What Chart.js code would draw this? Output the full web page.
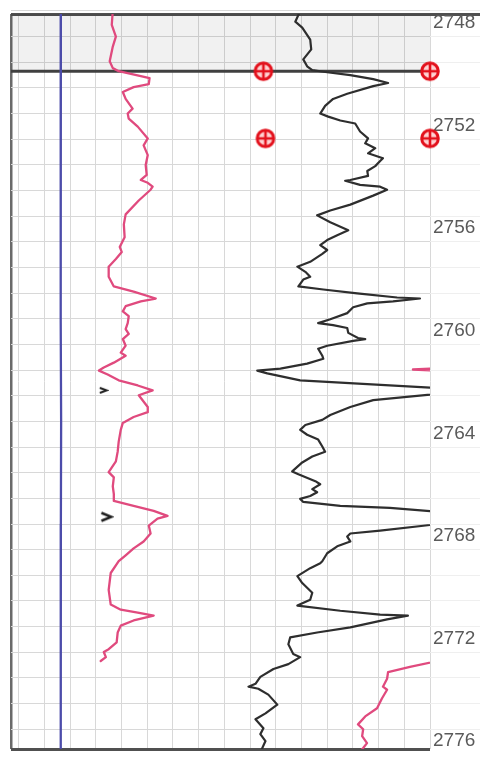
<!DOCTYPE html>
<html>
<head>
<meta charset="utf-8">
<title>Well log 2748-2776</title>
<script src="https://cdn.jsdelivr.net/npm/chart.js@4/dist/chart.umd.min.js"></script>
<style>
  html, body { margin: 0; padding: 0; background: #ffffff; }
  #wrap { position: relative; width: 480px; height: 760px; }
</style>
</head>
<body>
<div id="wrap"><canvas id="log"></canvas></div>
<script>
// Depth window (m) and depth labels on the right-hand track
const depthTop = 2748.12;
const depthBottom = 2776.77;
const depthLabels = [2748, 2752, 2756, 2760, 2764, 2768, 2772, 2776];
// Track scale (one division = 10 units)
const trackMin = -3;
const trackMax = 160;
const trackDivisions = [0, 10, 20, 30, 40, 50, 60, 70, 80, 90, 100, 110, 120, 130, 140, 150, 160];

// Formation top shading and boundary
const zoneTop = 2748.12;
const zoneBase = 2750.35;

// Blue curve
const spDepth = [2748.0, 2752.0, 2756.0, 2760.0, 2764.0, 2768.0, 2772.0, 2776.9];
const spValue = [16.4, 16.3, 16.4, 16.3, 16.5, 16.4, 16.3, 16.4];

// Pink curve
const grDepth = [
  2748.00, 2748.54, 2749.00, 2749.39, 2749.96, 2750.23, 2750.35, 2750.54, 2750.62, 2750.85,
  2750.97, 2751.16, 2751.43, 2751.81, 2752.00, 2752.20, 2752.51, 2752.97, 2753.24, 2753.62,
  2754.01, 2754.39, 2754.59, 2754.70, 2754.85, 2754.97, 2755.39, 2755.93, 2756.32, 2756.82,
  2757.20, 2757.40, 2757.67, 2757.97, 2758.36, 2758.74, 2758.94, 2759.21, 2759.32, 2759.51,
  2759.71, 2759.90, 2760.17, 2760.40, 2760.59, 2760.79, 2761.05, 2761.32, 2761.44, 2761.71,
  2761.90, 2762.02, 2762.17, 2762.40, 2762.60, 2762.79, 2762.98, 2763.44, 2763.64, 2763.83,
  2764.06, 2764.33, 2764.79, 2765.18, 2765.56, 2765.98, 2766.18, 2766.53, 2766.83, 2767.10,
  2767.29, 2767.49, 2767.68, 2767.79, 2768.06, 2768.37, 2768.68, 2768.95, 2769.22, 2769.45,
  2769.91, 2770.57, 2771.14, 2771.34, 2771.45, 2771.57, 2771.76, 2771.96, 2772.23, 2772.61,
  2772.88, 2772.99, 2773.19, 2773.34
];
const grValue = [
  36.6, 36.2, 37.8, 36.6, 35.4, 36.6, 38.9, 47.5, 50.9, 50.6,
  44.7, 40.5, 41.6, 44.3, 42.4, 42.8, 46.3, 50.2, 48.6, 50.2,
  49.4, 49.8, 47.5, 50.2, 52.1, 51.3, 46.7, 41.6, 40.9, 41.2,
  39.3, 40.1, 37.8, 35.0, 35.0, 37.0, 44.7, 53.3, 47.5, 41.6,
  40.5, 42.8, 42.4, 41.6, 42.8, 40.5, 41.6, 39.7, 41.6, 37.0,
  33.1, 31.2, 34.6, 38.9, 46.3, 52.1, 46.7, 50.2, 50.2, 44.7,
  40.5, 39.7, 38.9, 38.5, 37.8, 35.0, 37.0, 36.6, 37.0, 37.0,
  44.7, 52.5, 57.9, 54.0, 50.6, 51.3, 48.6, 44.7, 41.6, 38.9,
  35.8, 35.0, 35.8, 39.7, 46.3, 52.5, 44.7, 39.7, 38.5, 38.1,
  35.0, 33.1, 33.9, 31.9
];

// Pink curve, wrapped back onto the track
const grWrapDepth = [2773.30, 2773.57, 2773.77, 2774.03, 2774.34, 2774.46, 2774.80, 2775.18, 2775.50, 2775.81, 2776.00, 2776.27, 2776.54, 2776.73, 2776.90];
const grWrapValue = [165.0, 152.2, 143.7, 143.3, 141.7, 143.3, 141.3, 139.4, 134.8, 132.0, 134.0, 133.6, 135.5, 134.0, 132.5];
const grFlickDepth = [2761.88, 2761.98, 2762.08];
const grFlickValue = [176.0, 153.4, 176.0];

// Dark curve
const dtDepth = [
  2748.00, 2748.42, 2748.65, 2749.12, 2749.50, 2749.89, 2750.16, 2750.31, 2750.39, 2750.50,
  2750.66, 2750.81, 2750.93, 2751.23, 2751.43, 2751.70, 2752.00, 2752.12, 2752.27, 2752.39,
  2752.70, 2752.97, 2753.16, 2753.35, 2753.55, 2753.74, 2753.85, 2754.05, 2754.24, 2754.43,
  2754.59, 2754.62, 2754.78, 2754.85, 2754.97, 2755.20, 2755.55, 2755.78, 2755.97, 2756.24,
  2756.55, 2756.74, 2756.93, 2757.13, 2757.32, 2757.47, 2757.78, 2757.97, 2758.17, 2758.36,
  2758.47, 2758.74, 2758.86, 2759.01, 2759.17, 2759.21, 2759.32, 2759.40, 2759.55, 2759.78,
  2760.02, 2760.17, 2760.25, 2760.36, 2760.55, 2760.75, 2760.79, 2760.86, 2761.05, 2761.17,
  2761.44, 2761.56, 2761.75, 2761.94, 2762.02, 2762.13, 2762.40, 2762.79, 2763.17, 2763.44,
  2763.75, 2763.94, 2764.14, 2764.33, 2764.52, 2764.71, 2764.98, 2765.18, 2765.37, 2765.60,
  2765.95, 2766.06, 2766.33, 2766.45, 2766.64, 2766.76, 2766.91, 2767.02, 2767.14, 2767.29,
  2767.37, 2767.72, 2768.26, 2768.37, 2768.49, 2768.68, 2768.87, 2769.14, 2769.45, 2769.53,
  2769.72, 2770.03, 2770.30, 2770.68, 2770.95, 2771.18, 2771.38, 2771.53, 2771.57, 2771.72,
  2772.03, 2772.23, 2772.42, 2772.69, 2773.07, 2773.19, 2773.46, 2773.65, 2773.96, 2774.23,
  2774.34, 2774.42, 2774.65, 2775.04, 2775.38, 2775.61, 2775.96, 2776.19, 2776.46, 2776.90
];
const dtValue = [
  109.5, 107.6, 110.3, 113.4, 113.8, 110.7, 112.2, 114.2, 120.0, 129.0,
  137.9, 143.7, 137.9, 127.8, 122.3, 119.2, 117.3, 120.4, 125.1, 130.9,
  132.8, 135.9, 134.8, 138.7, 135.9, 141.7, 140.6, 138.7, 135.6, 135.9,
  129.0, 127.0, 132.8, 140.6, 143.3, 137.9, 129.0, 121.2, 116.1, 121.2,
  128.2, 123.9, 120.0, 117.3, 120.0, 118.1, 113.4, 108.4, 111.5, 113.4,
  110.7, 108.8, 118.5, 131.7, 147.2, 156.1, 145.6, 135.6, 130.1, 127.8,
  121.2, 116.5, 122.3, 127.8, 128.2, 132.0, 134.8, 130.1, 120.0, 116.5,
  118.1, 118.5, 112.2, 101.8, 92.8, 96.7, 109.5, 178.0, 137.9, 129.0,
  121.2, 118.1, 111.5, 109.5, 112.2, 116.5, 118.1, 119.2, 114.2, 110.3,
  106.4, 108.8, 115.4, 117.3, 114.2, 116.1, 113.4, 109.5, 110.7, 125.1,
  144.4, 188.0, 140.6, 129.0, 127.8, 129.0, 123.9, 120.0, 118.1, 117.3,
  113.4, 108.4, 110.3, 114.2, 113.4, 108.4, 125.1, 140.6, 151.4, 143.3,
  129.0, 116.1, 105.6, 104.9, 106.8, 109.5, 104.9, 99.1, 94.0, 92.1,
  89.4, 93.2, 97.1, 100.6, 96.0, 92.1, 95.2, 94.0, 96.0, 94.0
];

// Picks (circled crosses) and flags (chevrons)
const pickDepth = [2750.35, 2750.35, 2752.97, 2752.97];
const pickValue = [95.2, 160.0, 96.0, 160.0];
const flagDepth = [2762.79, 2767.72];
const flagValue = [32.9, 34.1];

const pts = (depth, value) => depth.map((d, i) => ({ x: value[i], y: d }));

// Marker glyphs
function pickGlyph() {
  const c = document.createElement('canvas');
  c.width = 22; c.height = 22;
  const g = c.getContext('2d');
  g.fillStyle = '#ffd3d3';
  g.beginPath(); g.arc(11, 11, 8.5, 0, Math.PI * 2); g.fill();
  g.strokeStyle = '#e3111c';
  g.lineWidth = 3;
  g.beginPath(); g.arc(11, 11, 8.3, 0, Math.PI * 2); g.stroke();
  g.lineWidth = 2.6;
  g.beginPath();
  g.moveTo(11, 3); g.lineTo(11, 19);
  g.moveTo(3, 11); g.lineTo(19, 11);
  g.stroke();
  return c;
}
function chevron(w, h, lw) {
  const c = document.createElement('canvas');
  c.width = w; c.height = h;
  const g = c.getContext('2d');
  g.strokeStyle = '#1e1e1e';
  g.lineWidth = lw;
  g.lineJoin = 'miter';
  g.beginPath();
  g.moveTo(lw, lw);
  g.lineTo(w - lw, h / 2);
  g.lineTo(lw, h - lw);
  g.stroke();
  return c;
}
const pickStyle = pickGlyph();
const flagStyles = [chevron(11, 9, 2), chevron(15, 13, 2.5)];

Chart.defaults.font.family = "'Liberation Sans', Arial, sans-serif";

const curve = (label, data, color, width, order) => ({
  label, data, order,
  borderColor: color,
  borderWidth: width,
  pointRadius: 0,
  borderJoinStyle: 'round',
  borderCapStyle: 'round',
  fill: false
});

const yTicks = [depthTop];
for (let d = 2748; d <= 2776; d++) yTicks.push(d);
yTicks.push(depthBottom);
const xTicks = [trackMin, ...trackDivisions];

new Chart(document.getElementById('log'), {
  type: 'line',
  data: {
    datasets: [
      {
        label: 'zone',
        data: [{ x: trackMin, y: zoneTop }, { x: trackMin, y: zoneBase }],
        borderWidth: 0,
        pointRadius: 0,
        backgroundColor: 'rgba(0,0,0,0.055)',
        fill: { value: trackMax },
        order: 20
      },
      curve('top', [{ x: trackMin, y: zoneBase }, { x: trackMax, y: zoneBase }], '#404040', 3, 19),
      curve('blue', pts(spDepth, spValue), '#4c4caa', 2.3, 15),
      curve('pink', pts(grDepth, grValue), '#e04a7e', 2.3, 12),
      curve('pink wrap', pts(grWrapDepth, grWrapValue), '#e04a7e', 2.3, 11),
      curve('pink flick', pts(grFlickDepth, grFlickValue), '#e04a7e', 2.5, 11),
      curve('dark', pts(dtDepth, dtValue), '#2e2e2e', 2.2, 10),
      {
        label: 'picks',
        data: pts(pickDepth, pickValue),
        showLine: false,
        pointStyle: pickStyle,
        pointRadius: 10,
        clip: false,
        order: 2
      },
      {
        label: 'flags',
        data: pts(flagDepth, flagValue),
        showLine: false,
        pointStyle: flagStyles,
        pointRadius: 8,
        order: 1
      }
    ]
  },
  options: {
    indexAxis: 'y',
    responsive: true,
    maintainAspectRatio: false,
    animation: false,
    events: [],
    layout: { padding: { left: 10, top: 14, right: 0, bottom: 2 } },
    plugins: { legend: { display: false }, tooltip: { enabled: false } },
    scales: {
      x: {
        type: 'linear',
        position: 'top',
        min: trackMin,
        max: trackMax,
        afterBuildTicks: s => { s.ticks = xTicks.map(v => ({ value: v })); },
        ticks: { display: false },
        border: { display: false },
        grid: {
          drawTicks: false,
          color: c => c.tick && c.tick.value === trackMin ? '#6a6a6a' : '#d8d8d8',
          lineWidth: c => c.tick && c.tick.value === trackMin ? 2.5 : 1
        }
      },
      y: {
        type: 'linear',
        position: 'right',
        reverse: true,
        min: depthTop,
        max: depthBottom,
        afterBuildTicks: s => { s.ticks = yTicks.map(v => ({ value: v })); },
        afterFit: s => { s.width = 50; s.paddingTop = 0; s.paddingBottom = 0; },
        border: { display: false },
        grid: {
          drawTicks: true,
          tickLength: 50,
          color: c => {
            const v = c.tick && c.tick.value;
            if (v === depthTop || v === depthBottom) return '#505050';
            return '#d8d8d8';
          },
          lineWidth: c => {
            const v = c.tick && c.tick.value;
            return (v === depthTop || v === depthBottom) ? 3 : 1;
          },
          tickColor: c => {
            const v = c.tick && c.tick.value;
            if (v === depthTop) return '#505050';
            if (v === depthBottom) return 'rgba(0,0,0,0)';
            return '#efefef';
          },
          tickWidth: c => (c.tick && c.tick.value === depthTop) ? 3 : 1
        },
        ticks: {
          autoSkip: false,
          padding: -47,
          labelOffset: 12,
          color: '#5a5a5a',
          font: { size: 19 },
          callback: v => depthLabels.includes(v) ? String(v) : ''
        }
      }
    }
  }
});
</script>
</body>
</html>
